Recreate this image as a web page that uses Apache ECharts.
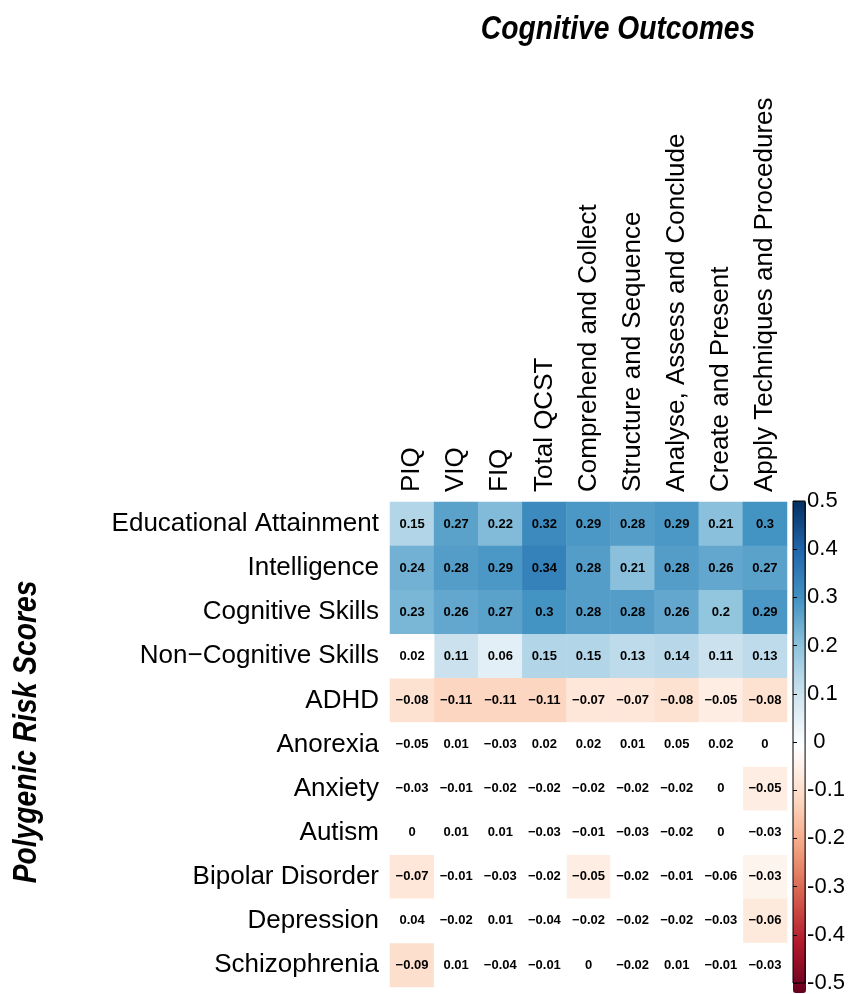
<!DOCTYPE html>
<html>
<head>
<meta charset="utf-8">
<script src="https://cdn.jsdelivr.net/npm/echarts@6/dist/echarts.min.js"></script>
<style>
  html, body { margin: 0; padding: 0; background: #fff; }
  #main { width: 848px; height: 994px; }
</style>
</head>
<body>
<div id="main"></div>
<script>
// cognitive outcomes (columns)
var outcomes = ['PIQ', 'VIQ', 'FIQ', 'Total QCST', 'Comprehend and Collect', 'Structure and Sequence',
  'Analyse, Assess and Conclude', 'Create and Present', 'Apply Techniques and Procedures']

// polygenic risk scores (rows, top to bottom)
var scores = ['Educational Attainment', 'Intelligence', 'Cognitive Skills', 'Non\u2212Cognitive Skills',
  'ADHD', 'Anorexia', 'Anxiety', 'Autism', 'Bipolar Disorder', 'Depression', 'Schizophrenia']

// correlations, one row per score
var eduAttain   = [0.15, 0.27, 0.22, 0.32, 0.29, 0.28, 0.29, 0.21, 0.3]
var intelli     = [0.24, 0.28, 0.29, 0.34, 0.28, 0.21, 0.28, 0.26, 0.27]
var cogSkills   = [0.23, 0.26, 0.27, 0.3, 0.28, 0.28, 0.26, 0.2, 0.29]
var nonCog      = [0.02, 0.11, 0.06, 0.15, 0.15, 0.13, 0.14, 0.11, 0.13]
var adhd        = [-0.08, -0.11, -0.11, -0.11, -0.07, -0.07, -0.08, -0.05, -0.08]
var anorexia    = [-0.05, 0.01, -0.03, 0.02, 0.02, 0.01, 0.05, 0.02, 0]
var anxiety     = [-0.03, -0.01, -0.02, -0.02, -0.02, -0.02, -0.02, 0, -0.05]
var autism      = [0, 0.01, 0.01, -0.03, -0.01, -0.03, -0.02, 0, -0.03]
var bipolar     = [-0.07, -0.01, -0.03, -0.02, -0.05, -0.02, -0.01, -0.06, -0.03]
var depression  = [0.04, -0.02, 0.01, -0.04, -0.02, -0.02, -0.02, -0.03, -0.06]
var schizo      = [-0.09, 0.01, -0.04, -0.01, 0, -0.02, 0.01, -0.01, -0.03]

var rows = [eduAttain, intelli, cogSkills, nonCog, adhd, anorexia, anxiety, autism, bipolar, depression, schizo]

// significant cells (1 = coloured, 0 = left blank)
var sigEdu     = [1, 1, 1, 1, 1, 1, 1, 1, 1]
var sigIntel   = [1, 1, 1, 1, 1, 1, 1, 1, 1]
var sigCog     = [1, 1, 1, 1, 1, 1, 1, 1, 1]
var sigNonCog  = [0, 1, 1, 1, 1, 1, 1, 1, 1]
var sigAdhd    = [1, 1, 1, 1, 1, 1, 1, 1, 1]
var sigAnor    = [0, 0, 0, 0, 0, 0, 0, 0, 0]
var sigAnx     = [0, 0, 0, 0, 0, 0, 0, 0, 1]
var sigAut     = [0, 0, 0, 0, 0, 0, 0, 0, 0]
var sigBip     = [1, 0, 0, 0, 1, 0, 0, 0, 1]
var sigDep     = [0, 0, 0, 0, 0, 0, 0, 0, 1]
var sigSchizo  = [1, 0, 0, 0, 0, 0, 0, 0, 0]

var sig = [sigEdu, sigIntel, sigCog, sigNonCog, sigAdhd, sigAnor, sigAnx, sigAut, sigBip, sigDep, sigSchizo]

// colour bar ticks
var barTicks = [-0.5, -0.4, -0.3, -0.2, -0.1, 0, 0.1, 0.2, 0.3, 0.4, 0.5]

var font = "'Liberation Sans', Arial, sans-serif"

function fmt(v) {
  if (v === 0) return '0'
  var s = String(Math.abs(v))
  return v < 0 ? '\u2212' + s : s
}

var sigCells = []
var blankCells = []
for (var r = 0; r < rows.length; r++) {
  for (var c = 0; c < rows[r].length; c++) {
    if (sig[r][c]) sigCells.push([c, r, rows[r][c]])
    else blankCells.push([c, r, rows[r][c]])
  }
}

var cellLabel = {
  show: true,
  fontFamily: font,
  fontSize: 13,
  fontWeight: 'bold',
  color: '#000',
  formatter: function (p) { return fmt(p.value[2]) }
}

var chart = echarts.init(document.getElementById('main'))

var option = {
  backgroundColor: '#fff',
  animation: false,
  graphic: [{
    type: 'text',
    x: 618,
    y: 30,
    scaleX: 0.83,
    style: {
      text: 'Cognitive Outcomes',
      font: 'italic bold 34px ' + font,
      fill: '#000',
      textAlign: 'center',
      textVerticalAlign: 'middle'
    }
  }, {
    type: 'text',
    x: 27,
    y: 732,
    rotation: Math.PI / 2,
    scaleX: 0.83,
    style: {
      text: 'Polygenic Risk Scores',
      font: 'italic bold 34px ' + font,
      fill: '#000',
      textAlign: 'center',
      textVerticalAlign: 'middle'
    }
  }],
  grid: [{
    left: 390,
    top: 502,
    width: 397,
    height: 485
  }, {
    left: 793,
    top: 501,
    width: 13,
    height: 492,
    show: true,
    z: 10,
    backgroundColor: 'rgba(0,0,0,0)',
    borderColor: '#000',
    borderWidth: 1
  }],
  xAxis: [{
    type: 'category',
    data: outcomes,
    position: 'top',
    gridIndex: 0,
    axisLine: { show: false },
    axisTick: { show: false },
    splitLine: { show: false },
    axisLabel: {
      rotate: -90,
      margin: 10,
      interval: 0,
      fontFamily: font,
      fontSize: 26,
      color: '#000'
    }
  }, {
    type: 'value',
    gridIndex: 1,
    show: false
  }],
  yAxis: [{
    type: 'category',
    data: scores,
    inverse: true,
    gridIndex: 0,
    axisLine: { show: false },
    axisTick: { show: false },
    splitLine: { show: false },
    axisLabel: {
      margin: 11,
      interval: 0,
      fontFamily: font,
      fontSize: 26,
      color: '#000'
    }
  }, {
    type: 'value',
    gridIndex: 1,
    position: 'right',
    min: barTicks[0],
    max: barTicks[barTicks.length - 1],
    interval: 0.1,
    z: 10,
    axisLine: { show: false },
    splitLine: { show: false },
    axisTick: { show: true, length: 4, lineStyle: { color: '#000' } },
    axisLabel: {
      margin: 2,
      fontFamily: font,
      fontSize: 22,
      color: '#000',
      formatter: function (v) {
        var n = Math.round(v * 10) / 10
        if (n === 0) return ' 0'
        return (n < 0 ? '-' : '') + Math.abs(n)
      }
    }
  }],
  visualMap: {
    type: 'continuous',
    min: -0.5,
    max: 0.5,
    calculable: false,
    hoverLink: false,
    orient: 'vertical',
    left: 793,
    top: 501,
    padding: 0,
    itemWidth: 13,
    itemHeight: 492,
    seriesIndex: 0,
    inRange: {
      color: ['#67001F', '#B2182B', '#D6604D', '#F4A582', '#FDDBC7', '#FFFFFF',
        '#D1E5F0', '#92C5DE', '#4393C3', '#2166AC', '#053061']
    }
  },
  series: [{
    type: 'heatmap',
    xAxisIndex: 0,
    yAxisIndex: 0,
    data: sigCells,
    itemStyle: { borderWidth: 0 },
    label: cellLabel
  }, {
    type: 'heatmap',
    xAxisIndex: 0,
    yAxisIndex: 0,
    data: blankCells,
    itemStyle: { color: '#fff', borderWidth: 0 },
    label: cellLabel
  }]
}

chart.setOption(option)
</script>
</body>
</html>
